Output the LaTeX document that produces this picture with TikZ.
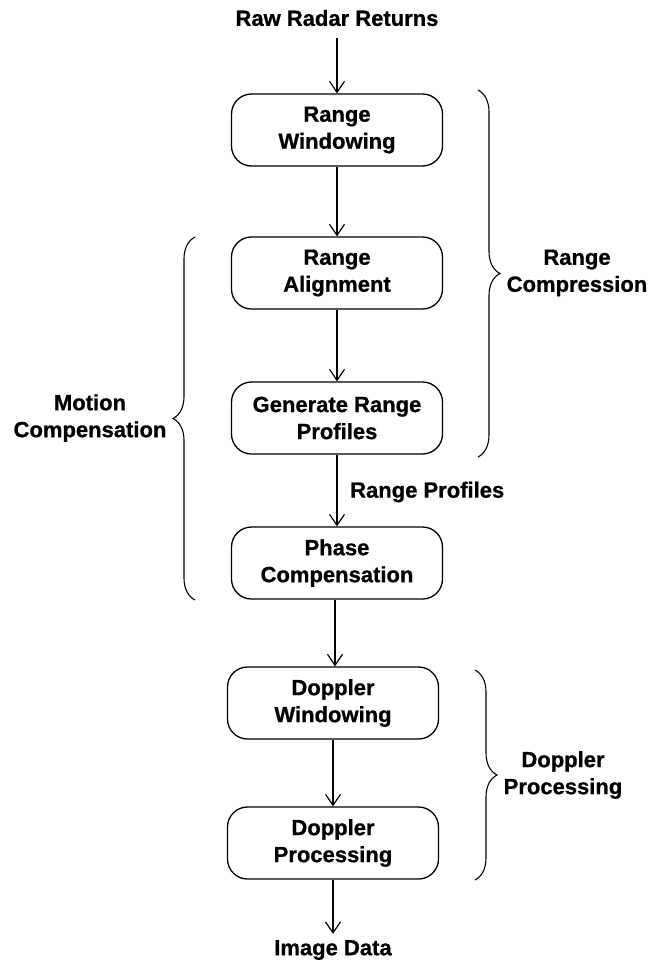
\documentclass[tikz,border=0pt]{standalone}
\usepackage{fontspec}
\setmainfont{Liberation Sans}[BoldFeatures={FakeBold=0.8}]
\usetikzlibrary{arrows.meta,decorations.pathreplacing}
\begin{document}
\begin{tikzpicture}[x=1pt,y=-1pt,
  font=\fontsize{22}{27}\selectfont\bfseries,
  proc/.style={draw,line width=1.3pt,rounded corners=20pt,minimum width=211pt,
    minimum height=72pt,align=center,inner sep=2pt},
  lbl/.style={align=center,inner sep=0pt},
  arr/.style={line width=1.2pt,-{Straight Barb[length=11pt,width=15pt,line width=1.2pt]}},
  brc/.style={line width=1.1pt,decorate,decoration={brace,amplitude=22pt}}]
\useasboundingbox (0,0) rectangle (651,964);

% processing chain
\node[lbl] (raw) at (337,18) {Raw Radar Returns};
\node[proc] (rw)  at (337,130) {Range\\Windowing};
\node[proc] (ra)  at (337,273) {Range\\Alignment};
\node[proc] (grp) at (337,418) {Generate Range\\Profiles};
\node[proc] (pc)  at (337,563) {Phase\\Compensation};
\node[proc] (dw)  at (333,703) {Doppler\\Windowing};
\node[proc] (dp)  at (333,843) {Doppler\\Processing};
\node[lbl] (img) at (333,950) {Image Data};
\coordinate (mid) at (335,0);

\draw[arr] (raw.south) ++(0,12) coordinate (rawout) -- (rw.north);
\draw[arr] (rw) -- (ra);
\draw[arr] (ra) -- (grp);
\draw[arr] (grp) -- (pc);
\draw[arr] (pc.south -| mid) -- (dw.north -| mid);
\draw[arr] (dw) -- (dp);
\draw[arr] (dp.south) -- ([yshift=6pt]img.north);

\node[lbl,anchor=west] (rp) at (350,492) {Range Profiles};

% grouping braces
\coordinate (rc1) at (478,90);  \coordinate (rc2) at (478,457);
\coordinate (mc1) at (195,600); \coordinate (mc2) at (195,237);
\coordinate (dq1) at (475,670); \coordinate (dq2) at (475,880);
\draw[brc] (rc1) -- (rc2);
\draw[brc] (mc1) -- (mc2);
\draw[brc] (dq1) -- (dq2);

\node[lbl] (rct) at (577,273) {Range\\Compression};
\node[lbl] (mct) at (90,418) {Motion\\Compensation};
\node[lbl] (dqt) at (563,775) {Doppler\\Processing};
\end{tikzpicture}
\end{document}
